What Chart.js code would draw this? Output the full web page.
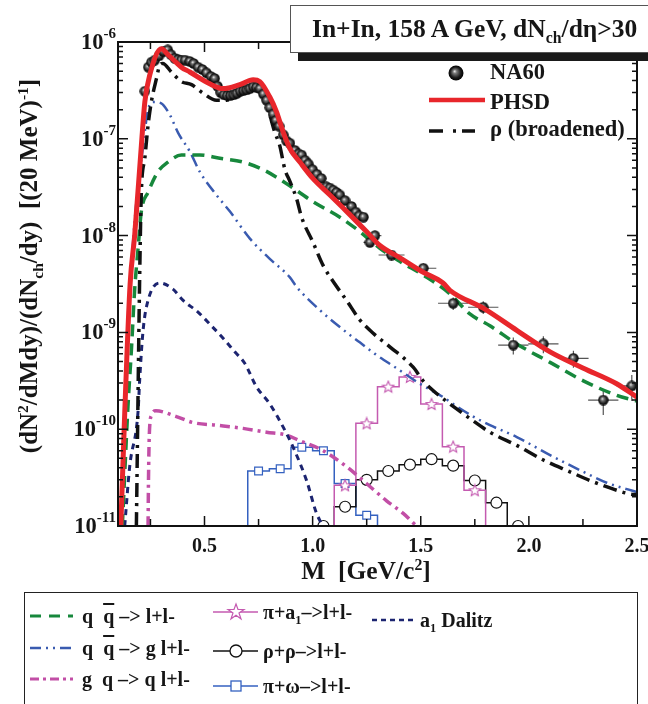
<!DOCTYPE html>
<html>
<head>
<meta charset="utf-8">
<title>In+In dilepton spectrum</title>
<script src="https://cdn.jsdelivr.net/npm/chart.js"></script>
<style>
  body { margin: 0; background: #fff; font-family: "Liberation Serif", "Times New Roman", serif; font-weight: bold; color: #161616; }
  #wrap { position: relative; width: 648px; height: 704px; overflow: hidden; }
  canvas { position: absolute; left: 0; top: 0; }
  .abs { position: absolute; white-space: nowrap; }
  sup, sub { font-size: 62%; line-height: 0; }
  .titlebox { left: 290px; top: 5px; width: 380px; height: 46px; border: 1px solid #555; background: #fff; box-shadow: 8px 8px 0 #1a1a1a; }
  .titlebox span { position: absolute; left: 21px; top: 8px; font-size: 25.5px; }
  .plotleg { font-size: 22.5px; line-height: 22px; }
  .ytitle { left: 29px; top: 266px; font-size: 25px; transform: translate(-50%, -50%) rotate(-90deg); }
  .xtitle { left: 366px; top: 571px; font-size: 25.5px; transform: translate(-50%, -50%); }
  .legbox { left: 24px; top: 592px; width: 612px; height: 130px; border: 1.5px solid #222; background: #fff; }
  .leg { font-size: 20px; line-height: 20px; }
  .ov { text-decoration: overline; }
</style>
</head>
<body>
<div id="wrap">
  <canvas id="c" width="648" height="704"></canvas>

  <div class="abs titlebox"><span>In+In, 158 A GeV, dN<sub>ch</sub>/dη&gt;30</span></div>

  <svg class="abs" style="left:0;top:0" width="648" height="704">
    <defs>
      <radialGradient id="ball" cx="0.5" cy="0.5" r="0.5" fx="0.4" fy="0.38">
        <stop offset="0" stop-color="#f0f0f0"/>
        <stop offset="0.25" stop-color="#7a7a7a"/>
        <stop offset="0.7" stop-color="#1c1c1c"/>
        <stop offset="1" stop-color="#000"/>
      </radialGradient>
    </defs>
    <circle cx="456" cy="73" r="7.5" fill="url(#ball)"/>
    <line x1="429" y1="100" x2="485" y2="100" stroke="#e8262b" stroke-width="4.5"/>
    <line x1="429" y1="131" x2="475" y2="131" stroke="#111" stroke-width="3.5" stroke-dasharray="14 10 3 6 14"/>
  </svg>
  <div class="abs plotleg" style="left:490px;top:61px">NA60</div>
  <div class="abs plotleg" style="left:490px;top:91px">PHSD</div>
  <div class="abs plotleg" style="left:490px;top:118px">ρ (broadened)</div>

  <div class="abs ytitle">(dN<sup>2</sup>/dMdy)/(dN<sub>ch</sub>/dy)&nbsp;&nbsp;[(20 MeV)<sup>-1</sup>]</div>
  <div class="abs xtitle">M&nbsp;&nbsp;[GeV/c<sup>2</sup>]</div>

  <div class="abs legbox"></div>
  <svg class="abs" style="left:0;top:0" width="648" height="704">
    <line x1="30" y1="616" x2="73" y2="616" stroke="#17883c" stroke-width="3" stroke-dasharray="11 8"/>
    <line x1="30" y1="648" x2="73" y2="648" stroke="#3a5bb0" stroke-width="2.5" stroke-dasharray="11 5 2 5 2 5"/>
    <line x1="30" y1="679" x2="73" y2="679" stroke="#c24ea6" stroke-width="3" stroke-dasharray="9 4 3 4"/>
    <line x1="213" y1="612" x2="258" y2="612" stroke="#c45ab0" stroke-width="1.5"/>
    <polygon points="236,604 238,609.5 244,609.5 239,613 241,619 236,615.3 231,619 233,613 228,609.5 234,609.5" fill="#fff" stroke="#c45ab0" stroke-width="1.2"/>
    <line x1="213" y1="651" x2="258" y2="651" stroke="#111" stroke-width="1.5"/>
    <circle cx="236" cy="651" r="6" fill="#fff" stroke="#111" stroke-width="1.3"/>
    <line x1="213" y1="686" x2="258" y2="686" stroke="#3461c0" stroke-width="1.5"/>
    <rect x="231" y="681" width="10" height="10" fill="#fff" stroke="#3461c0" stroke-width="1.3"/>
    <line x1="372" y1="620" x2="415" y2="620" stroke="#1c2470" stroke-width="2.5" stroke-dasharray="5 4"/>
  </svg>
  <div class="abs leg" style="left:82px;top:606px">q&nbsp;&nbsp;<span class="ov">q</span> –&gt; l+l-</div>
  <div class="abs leg" style="left:82px;top:638px">q&nbsp;&nbsp;<span class="ov">q</span> –&gt; g l+l-</div>
  <div class="abs leg" style="left:82px;top:669px">g&nbsp;&nbsp;q –&gt; q l+l-</div>
  <div class="abs leg" style="left:263px;top:602px">π+a<sub>1</sub>–&gt;l+l-</div>
  <div class="abs leg" style="left:263px;top:641px">ρ+ρ–&gt;l+l-</div>
  <div class="abs leg" style="left:263px;top:676px">π+ω–&gt;l+l-</div>
  <div class="abs leg" style="left:420px;top:610px">a<sub>1</sub> Dalitz</div>
</div>

<script>
// PHSD total
const phsdM = [0.113, 0.131, 0.156, 0.177, 0.208, 0.224, 0.247, 0.301, 0.331, 0.393, 0.432, 0.524, 0.586, 0.663, 0.725, 0.756, 0.802, 0.833, 0.864, 0.895, 0.941, 1.001, 1.080, 1.157, 1.249, 1.311, 1.404, 1.510, 1.603, 1.635, 1.789, 1.944, 2.098, 2.252, 2.406, 2.500];
const phsdY = [1.0e-11, 1.45e-10, 3.16e-9, 1.0e-8, 8.5e-8, 2.4e-7, 4.57e-7, 8.5e-7, 7.4e-7, 5.5e-7, 4.9e-7, 3.7e-7, 3.3e-7, 3.63e-7, 4.07e-7, 3.9e-7, 2.7e-7, 1.9e-7, 1.17e-7, 7.9e-8, 5.75e-8, 3.9e-8, 2.63e-8, 1.78e-8, 1.1e-8, 7.9e-9, 5.9e-9, 4.2e-9, 3.24e-9, 2.72e-9, 1.78e-9, 1.05e-9, 6.3e-10, 4.27e-10, 2.95e-10, 2.14e-10];

// NA60 data, dense region and points with error bars
const na60M = [0.224, 0.240, 0.255, 0.270, 0.290, 0.310, 0.330, 0.345, 0.362, 0.378, 0.393, 0.410, 0.432, 0.450, 0.470, 0.490, 0.509, 0.530, 0.547, 0.560, 0.575, 0.590, 0.605, 0.620, 0.635, 0.650, 0.665, 0.680, 0.695, 0.710, 0.725, 0.740, 0.756, 0.772, 0.787, 0.802, 0.817, 0.830, 0.845, 0.864, 0.880, 0.895, 0.918, 0.935, 0.949, 0.965, 0.980, 1.000, 1.020, 1.040, 1.064, 1.080, 1.095, 1.110, 1.126, 1.150, 1.180, 1.200, 1.215, 1.235];
const na60Y = [3.1e-7, 5.5e-7, 6.2e-7, 6.5e-7, 7.2e-7, 8.0e-7, 8.3e-7, 7.4e-7, 6.8e-7, 6.6e-7, 6.5e-7, 6.5e-7, 6.3e-7, 6.0e-7, 5.5e-7, 5.2e-7, 4.8e-7, 4.4e-7, 4.2e-7, 3.5e-7, 3.0e-7, 2.85e-7, 2.8e-7, 2.8e-7, 2.85e-7, 2.95e-7, 3.1e-7, 3.15e-7, 3.2e-7, 3.3e-7, 3.45e-7, 3.4e-7, 3.3e-7, 2.9e-7, 2.5e-7, 2.1e-7, 1.8e-7, 1.55e-7, 1.35e-7, 1.1e-7, 9.5e-8, 9.0e-8, 7.6e-8, 7.0e-8, 6.8e-8, 6.0e-8, 5.5e-8, 4.8e-8, 4.3e-8, 3.9e-8, 3.2e-8, 3.1e-8, 2.95e-8, 2.8e-8, 2.63e-8, 2.3e-8, 2.0e-8, 1.75e-8, 1.6e-8, 1.55e-8];
const na60ErrM = [1.265, 1.288, 1.365, 1.512, 1.650, 1.789, 1.928, 2.067, 2.206, 2.344, 2.476];
const na60ErrY = [8.5e-9, 1.0e-8, 6.3e-9, 4.6e-9, 2.0e-9, 1.82e-9, 7.4e-10, 7.6e-10, 5.4e-10, 2.0e-10, 2.8e-10];
const na60XErr = [0.03, 0.03, 0.06, 0.06, 0.07, 0.07, 0.07, 0.07, 0.07, 0.07, 0.07];
const na60YErr = [0.1, 0.1, 0.12, 0.12, 0.15, 0.15, 0.2, 0.2, 0.2, 0.3, 0.3];

// rho (broadened)
const rhoM = [0.185, 0.200, 0.208, 0.224, 0.239, 0.254, 0.278, 0.293, 0.307, 0.347, 0.393, 0.440, 0.494, 0.555, 0.602, 0.663, 0.725, 0.764, 0.794, 0.825, 0.848, 0.871, 0.895, 0.926, 0.949, 1.002, 1.049, 1.103, 1.157, 1.218, 1.280, 1.357, 1.465, 1.511, 1.573, 1.666, 1.727, 1.820, 1.944, 2.067, 2.190, 2.283, 2.391, 2.468, 2.500];
const rhoY = [1.0e-11, 3.5e-9, 2.8e-8, 6.3e-8, 1.38e-7, 2.4e-7, 4.2e-7, 5.75e-7, 6.0e-7, 4.9e-7, 3.9e-7, 3.63e-7, 2.95e-7, 2.5e-7, 2.5e-7, 2.95e-7, 3.3e-7, 3.16e-7, 2.04e-7, 1.17e-7, 8.5e-8, 4.9e-8, 3.63e-8, 2.4e-8, 1.55e-8, 8.5e-9, 4.9e-9, 3.16e-9, 2.14e-9, 1.35e-9, 9.8e-10, 7.1e-10, 4.37e-10, 3.16e-10, 2.34e-10, 1.62e-10, 1.29e-10, 9.3e-11, 6.8e-11, 4.8e-11, 3.63e-11, 2.95e-11, 2.4e-11, 2.14e-11, 2.1e-11];

// q qbar -> l+l-
const qqM = [0.120, 0.146, 0.162, 0.177, 0.193, 0.208, 0.239, 0.285, 0.331, 0.393, 0.478, 0.571, 0.678, 0.771, 0.864, 1.002, 1.126, 1.218, 1.311, 1.404, 1.512, 1.635, 1.727, 1.820, 1.944, 2.098, 2.252, 2.406, 2.500];
const qqY = [1.0e-11, 1.7e-10, 6.6e-10, 2.75e-9, 7.4e-9, 1.78e-8, 2.8e-8, 4.57e-8, 5.75e-8, 6.8e-8, 6.8e-8, 6.3e-8, 5.75e-8, 4.8e-8, 3.63e-8, 2.24e-8, 1.55e-8, 1.1e-8, 7.4e-9, 5.4e-9, 3.9e-9, 2.5e-9, 1.55e-9, 1.17e-9, 7.6e-10, 4.9e-10, 3.16e-10, 2.24e-10, 1.95e-10];

// q qbar -> g l+l-
const qqgM = [0.116, 0.130, 0.162, 0.185, 0.215, 0.239, 0.265, 0.298, 0.339, 0.378, 0.432, 0.478, 0.555, 0.617, 0.710, 0.802, 0.895, 0.926, 1.033, 1.157, 1.218, 1.288, 1.388, 1.496, 1.604, 1.650, 1.743, 1.820, 1.944, 2.098, 2.252, 2.360, 2.500];
const qqgY = [1.0e-11, 1.3e-10, 4.6e-9, 2.24e-8, 8.0e-8, 2.0e-7, 2.4e-7, 2.34e-7, 1.78e-7, 1.15e-7, 7.4e-8, 4.57e-8, 2.63e-8, 1.78e-8, 9.3e-9, 5.75e-9, 3.7e-9, 2.95e-9, 1.7e-9, 1.0e-9, 7.9e-10, 6.0e-10, 4.27e-10, 2.95e-10, 2.14e-10, 1.82e-10, 1.35e-10, 1.1e-10, 8.3e-11, 5.4e-11, 3.63e-11, 2.8e-11, 2.24e-11];

// g q -> q l+l-
const gqM = [0.239, 0.241, 0.245, 0.255, 0.275, 0.370, 0.447, 0.555, 0.678, 0.787, 0.879, 0.941, 1.049, 1.157, 1.249, 1.342, 1.419, 1.480];
const gqY = [1.0e-11, 3.0e-11, 9.0e-11, 1.4e-10, 1.55e-10, 1.35e-10, 1.17e-10, 1.1e-10, 1.02e-10, 9.3e-11, 8.7e-11, 7.6e-11, 6.0e-11, 4.1e-11, 2.75e-11, 1.82e-11, 1.35e-11, 1.0e-11];

// a1 Dalitz
const a1dM = [0.131, 0.154, 0.193, 0.200, 0.216, 0.239, 0.293, 0.354, 0.401, 0.470, 0.532, 0.586, 0.640, 0.686, 0.740, 0.802, 0.864, 0.910, 0.972, 1.018, 1.040, 1.060];
const a1dY = [1.0e-11, 4.1e-11, 1.55e-10, 3.16e-10, 1.05e-9, 2.14e-9, 3.24e-9, 2.8e-9, 2.14e-9, 1.62e-9, 1.17e-9, 8.7e-10, 6.3e-10, 4.8e-10, 2.75e-10, 1.82e-10, 1.05e-10, 6.5e-11, 2.95e-11, 1.35e-11, 1.07e-11, 8.5e-12];

// histograms: bin edges and contents
const piA1Edges = [1.1, 1.2, 1.3, 1.4, 1.5, 1.6, 1.7, 1.8];
const piA1Y = [2.63e-11, 1.15e-10, 2.75e-10, 3.47e-10, 1.82e-10, 6.6e-11, 2.34e-11];
const rhoRhoEdges = [1.0, 1.1, 1.2, 1.3, 1.4, 1.5, 1.6, 1.7, 1.8, 1.9, 2.0];
const rhoRhoY = [1.0e-11, 1.58e-11, 3.0e-11, 3.7e-11, 4.3e-11, 4.9e-11, 4.2e-11, 2.95e-11, 1.74e-11, 1.0e-11];
const piOmegaEdges = [0.7, 0.8, 0.9, 1.0, 1.1, 1.2, 1.3];
const piOmegaY = [3.7e-11, 3.9e-11, 6.5e-11, 6.0e-11, 2.75e-11, 1.29e-11];

const xLabels = [0.5, 1.0, 1.5, 2.0, 2.5];
const xTicks = [0.25, 0.5, 0.75, 1.0, 1.25, 1.5, 1.75, 2.0, 2.25];
const yDecades = [1e-11, 1e-10, 1e-9, 1e-8, 1e-7, 1e-6];

const FONT = '"Liberation Serif", "Times New Roman", serif';

function pts(xs, ys) { return xs.map((x, i) => ({ x: x, y: ys[i] })); }
function histLine(edges, vals) {
  const out = [{ x: edges[0], y: 1e-13 }];
  vals.forEach((v, i) => out.push({ x: edges[i], y: v }));
  out.push({ x: edges[edges.length - 1], y: 1e-13 });
  return out;
}
function histMarks(edges, vals) {
  return vals.map((v, i) => ({ x: (edges[i] + edges[i + 1]) / 2, y: v }));
}

// sphere marker
function makeBall(d) {
  const c = document.createElement('canvas');
  c.width = d; c.height = d;
  const g = c.getContext('2d');
  const r = d / 2;
  const grad = g.createRadialGradient(r * 0.8, r * 0.75, 0.2, r, r, r);
  grad.addColorStop(0, '#eeeeee');
  grad.addColorStop(0.25, '#7a7a7a');
  grad.addColorStop(0.7, '#1c1c1c');
  grad.addColorStop(1, '#000');
  g.fillStyle = grad;
  g.beginPath(); g.arc(r, r, r - 0.3, 0, Math.PI * 2); g.fill();
  return c;
}
function makeStar(d, color) {
  const c = document.createElement('canvas');
  c.width = d; c.height = d;
  const g = c.getContext('2d');
  const R = d / 2 - 1, r = R * 0.45, cx = d / 2, cy = d / 2 + 0.5;
  g.beginPath();
  for (let k = 0; k < 10; k++) {
    const a = -Math.PI / 2 + k * Math.PI / 5;
    const rr = k % 2 ? r : R;
    g.lineTo(cx + rr * Math.cos(a), cy + rr * Math.sin(a));
  }
  g.closePath();
  g.fillStyle = '#fff'; g.fill();
  g.strokeStyle = color; g.lineWidth = 1.1; g.stroke();
  return c;
}
const ball = makeBall(11);
const star = makeStar(14, '#c45ab0');

function curve(data, color, width, dash) {
  return { data: data, showLine: true, borderColor: color, borderWidth: width, borderDash: dash,
           pointRadius: 0, fill: false, clip: 0, cubicInterpolationMode: 'monotone' };
}
function steps(data, color) {
  return { data: data, showLine: true, stepped: true, borderColor: color, borderWidth: 1.5,
           pointRadius: 0, fill: false, clip: 0 };
}
function marks(data, style, color, radius) {
  return { data: data, showLine: false, pointStyle: style, pointRadius: radius,
           pointBackgroundColor: '#fff', pointBorderColor: color, pointBorderWidth: 1.2, clip: 0 };
}

const errorBars = {
  id: 'errorBars',
  beforeDatasetsDraw(chart) {
    const { ctx, chartArea, scales: { x, y } } = chart;
    ctx.save();
    ctx.beginPath(); ctx.rect(chartArea.left, chartArea.top, chartArea.width, chartArea.height); ctx.clip();
    ctx.strokeStyle = '#555'; ctx.lineWidth = 1.2;
    na60ErrM.forEach((m, i) => {
      const v = na60ErrY[i];
      const px = x.getPixelForValue(m), py = y.getPixelForValue(v);
      ctx.beginPath();
      ctx.moveTo(x.getPixelForValue(m - na60XErr[i]), py);
      ctx.lineTo(x.getPixelForValue(m + na60XErr[i]), py);
      ctx.moveTo(px, y.getPixelForValue(v * (1 + na60YErr[i])));
      ctx.lineTo(px, y.getPixelForValue(v * (1 - na60YErr[i])));
      ctx.stroke();
    });
    ctx.restore();
  }
};

// frame, inward ticks and tick labels
const frame = {
  id: 'frame',
  afterDraw(chart) {
    const { ctx, chartArea: a, scales: { x, y } } = chart;
    ctx.save();
    ctx.strokeStyle = '#111'; ctx.lineWidth = 2;
    ctx.strokeRect(a.left, a.top, a.right - a.left, a.bottom - a.top);
    ctx.lineWidth = 1.5;
    ctx.beginPath();
    xTicks.forEach(v => {
      const px = x.getPixelForValue(v);
      const len = xLabels.includes(v) ? 10 : 7;
      ctx.moveTo(px, a.bottom); ctx.lineTo(px, a.bottom - len);
      ctx.moveTo(px, a.top); ctx.lineTo(px, a.top + len);
    });
    yDecades.forEach((d, i) => {
      const py = y.getPixelForValue(d);
      ctx.moveTo(a.left, py); ctx.lineTo(a.left + 10, py);
      ctx.moveTo(a.right, py); ctx.lineTo(a.right - 10, py);
      if (i === yDecades.length - 1) return;
      for (let k = 2; k <= 9; k++) {
        const pm = y.getPixelForValue(d * k);
        ctx.moveTo(a.left, pm); ctx.lineTo(a.left + 5, pm);
        ctx.moveTo(a.right, pm); ctx.lineTo(a.right - 5, pm);
      }
    });
    ctx.stroke();

    ctx.fillStyle = '#161616';
    ctx.textBaseline = 'alphabetic';
    ctx.textAlign = 'center';
    ctx.font = 'bold 20px ' + FONT;
    xLabels.forEach(v => ctx.fillText(v.toFixed(1), x.getPixelForValue(v), a.bottom + 26));

    ctx.textAlign = 'right';
    yDecades.forEach(d => {
      const py = y.getPixelForValue(d);
      const exp = String(Math.round(Math.log10(d)));
      ctx.font = 'bold 15px ' + FONT;
      const ew = ctx.measureText(exp).width;
      ctx.fillText(exp, a.left - 2, py - 4);
      ctx.font = 'bold 22.5px ' + FONT;
      ctx.fillText('10', a.left - 2 - ew, py + 7);
    });
    ctx.restore();
  }
};

const datasets = [
  curve(pts(phsdM, phsdY), '#e8262b', 5, []),
  { data: pts(na60M, na60Y), pointStyle: ball, pointRadius: 5, clip: 0 },
  { data: pts(na60ErrM, na60ErrY), pointStyle: ball, pointRadius: 5, clip: 0 },
  curve(pts(rhoM, rhoY), '#111', 3.5, [14, 6, 3, 6]),
  curve(pts(qqM, qqY), '#17883c', 3.5, [12, 7]),
  curve(pts(qqgM, qqgY), '#3a5bb0', 2.5, [12, 5, 2, 5, 2, 5]),
  curve(pts(a1dM, a1dY), '#1c2470', 3, [6, 5]),
  curve(pts(gqM, gqY), '#c24ea6', 3.5, [10, 5, 3, 5]),
  marks(histMarks(piA1Edges, piA1Y), star, '#c45ab0', 6),
  steps(histLine(piA1Edges, piA1Y), '#c45ab0'),
  marks(histMarks(rhoRhoEdges, rhoRhoY), 'circle', '#111', 5.5),
  steps(histLine(rhoRhoEdges, rhoRhoY), '#111'),
  marks(histMarks(piOmegaEdges, piOmegaY), 'rect', '#3461c0', 5.5),
  steps(histLine(piOmegaEdges, piOmegaY), '#3461c0')
];

new Chart(document.getElementById('c'), {
  type: 'scatter',
  data: { datasets: datasets },
  options: {
    responsive: false,
    animation: false,
    layout: { padding: { left: 0, top: 42, right: 11, bottom: 138 } },
    plugins: { legend: { display: false }, tooltip: { enabled: false } },
    scales: {
      x: {
        type: 'linear', min: 0.1, max: 2.5,
        afterFit: s => { s.height = 40; },
        grid: { display: false, drawTicks: false },
        border: { display: false },
        ticks: { display: false }
      },
      y: {
        type: 'logarithmic', min: 1e-11, max: 1e-6,
        afterFit: s => { s.width = 118; },
        grid: { display: false },
        border: { display: false },
        ticks: { display: false }
      }
    }
  },
  plugins: [errorBars, frame]
});
</script>
</body>
</html>
